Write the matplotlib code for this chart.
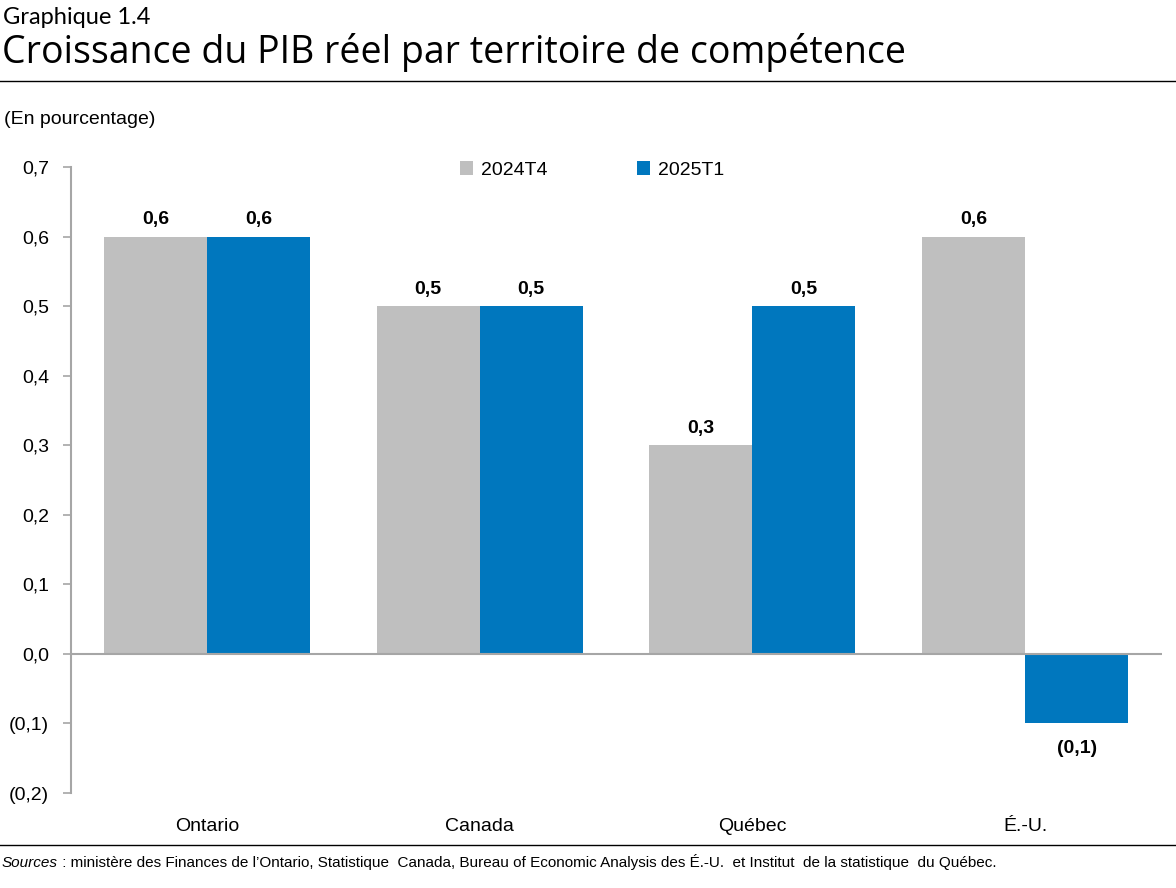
import matplotlib
matplotlib.use("Agg")
import matplotlib.pyplot as plt
import numpy as np

categories = ["Ontario", "Canada", "Québec", "É.-U."]
series_names = ["2024T4", "2025T1"]
vals_2024T4 = [0.6, 0.5, 0.3, 0.6]
vals_2025T1 = [0.6, 0.5, 0.5, -0.1]
yticks = [-0.2, -0.1, 0.0, 0.1, 0.2, 0.3, 0.4, 0.5, 0.6, 0.7]

def fmt(v):
    s = f"{abs(v):.1f}".replace(".", ",")
    return f"({s})" if v < 0 else s

W, H = 1176, 888
fig = plt.figure(figsize=(W / 100, H / 100), dpi=100)
plt.rcParams['font.family'] = ['Liberation Sans', 'DejaVu Sans']

ax = fig.add_axes([70.5 / W, (H - 793) / H, 1091 / W, (793 - 167) / H])
x = np.arange(len(categories))
bw = 0.378
c1, c2 = "#BFBFBF", "#0077BE"
b1 = ax.bar(x - bw / 2, vals_2024T4, bw, color=c1, label=series_names[0], zorder=2)
b2 = ax.bar(x + bw / 2, vals_2025T1, bw, color=c2, label=series_names[1], zorder=2)

for bars, vals in ((b1, vals_2024T4), (b2, vals_2025T1)):
    for r, v in zip(bars, vals):
        cx = r.get_x() + r.get_width() / 2
        if v >= 0:
            ax.annotate(fmt(v), (cx, v), xytext=(0, 6), textcoords="offset points",
                        ha="center", va="bottom", fontsize=14, fontweight="bold")
        else:
            ax.annotate(fmt(v), (cx, v), xytext=(0, -12), textcoords="offset points",
                        ha="center", va="top", fontsize=14, fontweight="bold")

ax.set_xlim(-0.5, len(categories) - 0.5)
ax.set_ylim(-0.2, 0.7)
ax.set_yticks(yticks)
ax.set_yticklabels([fmt(v) for v in yticks], fontsize=14)
ax.axhline(0, color="#A6A6A6", lw=1.5, zorder=3)
ax.set_xticks(x)
ax.set_xticklabels(categories, fontsize=14)
ax.tick_params(axis="x", length=0, pad=18)
ax.tick_params(axis="y", length=5.5, width=1.2, color="#A6A6A6", pad=10)
for s in ("top", "right", "bottom"):
    ax.spines[s].set_visible(False)
ax.spines["left"].set_color("#A6A6A6")
ax.spines["left"].set_linewidth(1.5)

leg = ax.legend(loc="center", bbox_to_anchor=(0.5 - 24 / 1091, 1.0 - 3 / 626), ncol=2, frameon=False,
                fontsize=14, handlelength=0.7, handleheight=0.7, columnspacing=4.6, handletextpad=0.4)

fig.text(3 / W, 1 - 18 / H, "Graphique 1.4", fontsize=17, family=["Lato", "DejaVu Sans"], va="center", ha="left")
title = fig.text(2 / W, 1 - 53 / H, "Croissance du PIB réel par territoire de compétence", fontsize=27,
                 family=["Open Sans", "DejaVu Sans"], va="center", ha="left")
fig.add_artist(plt.Line2D([0, 1], [1 - 81 / H, 1 - 81 / H], color="black", lw=1, transform=fig.transFigure))
fig.add_artist(plt.Line2D([0, 1], [1 - 845 / H, 1 - 845 / H], color="black", lw=1, transform=fig.transFigure))
fig.text(4 / W, 1 - 120 / H, "(En pourcentage)", fontsize=14, va="center", ha="left")

t1 = fig.text(2 / W, 1 - 867 / H, "Sources", fontsize=11, style="italic", va="baseline", ha="left")
fig.canvas.draw()
ext = t1.get_window_extent()
fig.text(ext.x1 / W, 1 - 867 / H, " : ministère des Finances de l’Ontario, Statistique  Canada, Bureau of Economic Analysis des É.-U.  et Institut  de la statistique  du Québec.",
         fontsize=11, va="baseline", ha="left")

fig.savefig("out.png", dpi=100)
